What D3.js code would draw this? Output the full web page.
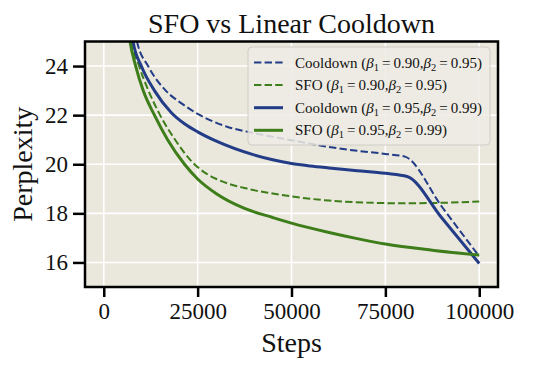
<!DOCTYPE html>
<html>
<head>
<meta charset="utf-8">
<script src="https://cdn.jsdelivr.net/npm/d3@7"></script>
<style>
  html, body { margin: 0; padding: 0; background: #ffffff; }
  svg { display: block; }
  text { font-family: "Liberation Serif", "DejaVu Serif", serif; fill: #111; }
</style>
</head>
<body>
<svg id="chart" width="549" height="369"></svg>
<script>
// ---- data ----
const xTicks = [0, 25000, 50000, 75000, 100000];
const yTicks = [16, 18, 20, 22, 24];

const cooldownA_steps = [6500, 8850, 11800, 16500, 21000, 25000, 28290, 33000, 38950, 50000, 61000, 68000, 75000, 80200, 90000, 100000];
const cooldownA_vals  = [28.0, 25.0, 24.0, 23.0, 22.45, 22.05, 21.8, 21.52, 21.3, 20.98, 20.68, 20.54, 20.42, 20.31, 18.28, 16.25];

const sfoA_steps = [5500, 7500, 9400, 11900, 15000, 19000, 23500, 27000, 30000, 37500, 45000, 50000, 60000, 70000, 80000, 90000, 100000];
const sfoA_vals  = [28.0, 25.0, 24.0, 23.0, 22.0, 21.0, 20.1, 19.65, 19.4, 19.03, 18.81, 18.69, 18.52, 18.44, 18.41, 18.43, 18.48];

const cooldownB_steps = [5800, 7800, 10000, 13500, 18000, 21500, 25000, 30000, 40000, 45000, 50000, 55000, 60000, 67500, 75000, 80800, 90000, 100000];
const cooldownB_vals  = [28.0, 25.0, 24.0, 23.0, 22.1, 21.65, 21.32, 20.94, 20.38, 20.18, 20.03, 19.93, 19.85, 19.74, 19.63, 19.5, 17.82, 15.96];

const sfoB_steps = [5000, 7000, 8500, 10500, 13500, 17000, 21500, 25000, 30000, 37500, 45000, 50000, 60000, 67500, 75000, 87500, 100000];
const sfoB_vals  = [28.0, 25.0, 24.0, 23.0, 22.0, 21.0, 20.0, 19.4, 18.8, 18.2, 17.83, 17.6, 17.22, 16.97, 16.75, 16.5, 16.3];

const legendPrefixes = ["Cooldown (", "SFO (", "Cooldown (", "SFO ("];
const legendBeta1 = ["0.90", "0.90", "0.95", "0.95"];
const legendBeta2 = ["0.95", "0.95", "0.99", "0.99"];

const blue = "#233c87", green = "#3d7d1a";
const series = [
  { steps: cooldownA_steps, vals: cooldownA_vals, color: blue,  dashed: true },
  { steps: sfoA_steps,      vals: sfoA_vals,      color: green, dashed: true },
  { steps: cooldownB_steps, vals: cooldownB_vals, color: blue,  dashed: false },
  { steps: sfoB_steps,      vals: sfoB_vals,      color: green, dashed: false }
];

// ---- layout ----
const svg = d3.select("#chart");
const L = 85, R = 498, T = 41.5, B = 287;
const x = d3.scaleLinear().domain([-5000, 105000]).range([L, R]);
const y = d3.scaleLinear().domain([15, 25]).range([B, T]);

svg.append("defs").append("clipPath").attr("id", "clip")
  .append("rect").attr("x", L).attr("y", T).attr("width", R - L).attr("height", B - T);

svg.append("rect").attr("x", L).attr("y", T).attr("width", R - L).attr("height", B - T)
  .attr("fill", "#eae7dc");

const grid = svg.append("g");
grid.selectAll("line.vx").data(xTicks).join("line")
  .attr("x1", d => x(d)).attr("x2", d => x(d)).attr("y1", T).attr("y2", B)
  .attr("stroke", "#ffffff").attr("stroke-width", 1.6);
grid.selectAll("line.hy").data(yTicks).join("line")
  .attr("x1", L).attr("x2", R).attr("y1", d => y(d)).attr("y2", d => y(d))
  .attr("stroke", "#ffffff").attr("stroke-width", 1.6);

const plot = svg.append("g").attr("clip-path", "url(#clip)");
series.forEach(s => {
  const pts = s.steps.map((st, i) => [st, s.vals[i]]);
  const line = d3.line().x(d => x(d[0])).y(d => y(d[1])).curve(d3.curveMonotoneX);
  plot.append("path").datum(pts).attr("d", line)
    .attr("fill", "none").attr("stroke", s.color)
    .attr("stroke-width", s.dashed ? 2 : 3)
    .attr("stroke-dasharray", s.dashed ? "7.4,3.2" : null)
    .attr("stroke-linejoin", "round");
});

const xAxis = d3.axisBottom(x).tickValues(xTicks).tickSize(10).tickPadding(6).tickFormat(d3.format("d"));
const yAxis = d3.axisLeft(y).tickValues(yTicks).tickSize(12).tickPadding(5).tickFormat(d3.format("d"));
const gx = svg.append("g").attr("transform", `translate(0,${B})`).call(xAxis);
const gy = svg.append("g").attr("transform", `translate(${L},0)`).call(yAxis);
[gx, gy].forEach(g => {
  g.select(".domain").remove();
  g.selectAll(".tick line").attr("stroke", "#000").attr("stroke-width", 2.5);
  g.selectAll(".tick text").attr("font-family", "Liberation Serif, serif").attr("font-size", 23).attr("fill", "#111");
});

svg.append("rect").attr("x", L).attr("y", T).attr("width", R - L).attr("height", B - T)
  .attr("fill", "none").attr("stroke", "#000").attr("stroke-width", 2.5);

svg.append("text").attr("x", (L + R) / 2).attr("y", 33).attr("text-anchor", "middle")
  .attr("font-size", 28).text("SFO vs Linear Cooldown");
svg.append("text").attr("x", (L + R) / 2).attr("y", 352).attr("text-anchor", "middle")
  .attr("font-size", 28).text("Steps");
svg.append("text").attr("transform", `translate(32,${(T + B) / 2}) rotate(-90)`).attr("text-anchor", "middle")
  .attr("font-size", 28).text("Perplexity");

const lg = svg.append("g");
lg.append("rect").attr("x", 248).attr("y", 47).attr("width", 242).attr("height", 98)
  .attr("rx", 4).attr("fill", "#edebe4").attr("fill-opacity", 0.85)
  .attr("stroke", "#cfcdc6").attr("stroke-width", 1);
series.forEach((s, i) => {
  const cy = 62.5 + i * 22.6;
  lg.append("line").attr("x1", 254).attr("x2", 283).attr("y1", cy).attr("y2", cy)
    .attr("stroke", s.color).attr("stroke-width", s.dashed ? 2 : 3)
    .attr("stroke-dasharray", s.dashed ? "7.4,3.2" : null);
  const t = lg.append("text").attr("x", 295).attr("y", cy + 5).attr("font-size", 15);
  t.append("tspan").text(legendPrefixes[i]);
  t.append("tspan").attr("font-style", "italic").text("β");
  t.append("tspan").attr("font-size", 10.5).attr("dy", 3).text("1");
  t.append("tspan").attr("dy", -3).text("\u2009=\u2009" + legendBeta1[i] + ",");
  t.append("tspan").attr("font-style", "italic").text("β");
  t.append("tspan").attr("font-size", 10.5).attr("dy", 3).text("2");
  t.append("tspan").attr("dy", -3).text("\u2009=\u2009" + legendBeta2[i] + ")");
});
</script>
</body>
</html>
